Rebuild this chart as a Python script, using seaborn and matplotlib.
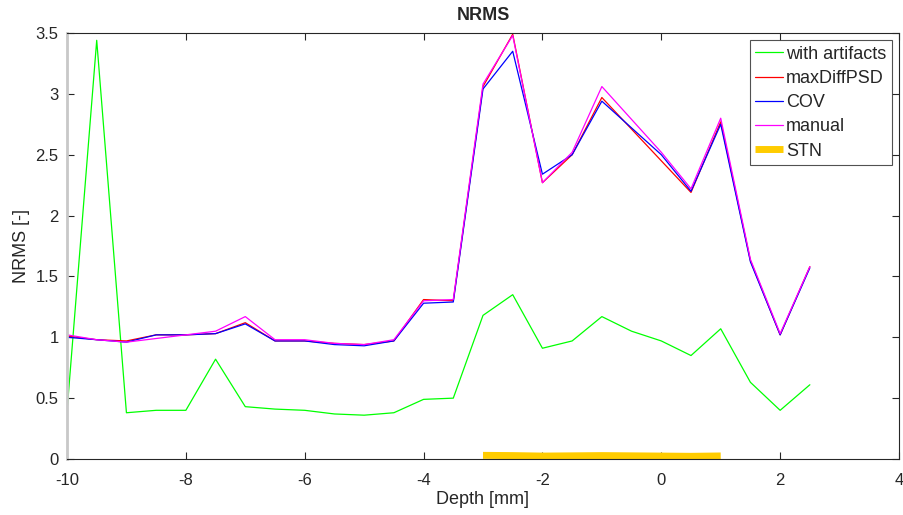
import numpy as np
import pandas as pd
import seaborn as sns
import matplotlib
matplotlib.use("Agg")
import matplotlib.pyplot as plt
from matplotlib.ticker import FuncFormatter

depth = [-10, -9.5, -9, -8.5, -8, -7.5, -7, -6.5, -6, -5.5, -5, -4.5, -4,
         -3.5, -3, -2.5, -2, -1.5, -1, -0.5, 0, 0.5, 1, 1.5, 2, 2.5]
with_artifacts = [0.39, 3.44, 0.38, 0.40, 0.40, 0.82, 0.43, 0.41, 0.40, 0.37,
                  0.36, 0.38, 0.49, 0.50, 1.18, 1.35, 0.91, 0.97, 1.17, 1.05,
                  0.97, 0.85, 1.07, 0.63, 0.40, 0.61]
max_diff_psd = [1.01, 0.98, 0.97, 1.02, 1.02, 1.03, 1.12, 0.97, 0.97, 0.95,
                0.94, 0.97, 1.31, 1.30, 3.06, 3.49, 2.27, 2.50, 2.97, 2.71,
                2.45, 2.19, 2.77, 1.63, 1.02, 1.58]
cov = [1.00, 0.98, 0.96, 1.02, 1.02, 1.03, 1.11, 0.97, 0.97, 0.94,
       0.93, 0.97, 1.28, 1.29, 3.04, 3.35, 2.34, 2.50, 2.94, 2.72,
       2.50, 2.20, 2.75, 1.62, 1.02, 1.57]
manual = [1.02, 0.98, 0.96, 0.99, 1.02, 1.05, 1.17, 0.98, 0.98, 0.95,
          0.94, 0.98, 1.30, 1.31, 3.08, 3.48, 2.27, 2.52, 3.06, 2.79,
          2.52, 2.22, 2.80, 1.64, 1.03, 1.58]

stn_depth = [-3, -2.5, -2, -1.5, -1, -0.5, 0, 0.5, 1]
stn_level = [0.03, 0.028, 0.024, 0.026, 0.028, 0.026, 0.024, 0.022, 0.025]

series = {
    "with artifacts": (with_artifacts, "#00ff00"),
    "maxDiffPSD": (max_diff_psd, "#ff0000"),
    "COV": (cov, "#0000ff"),
    "manual": (manual, "#ff00ff"),
}

sns.set_style("white")
plt.rcParams["font.family"] = ["Liberation Sans", "DejaVu Sans"]
plt.rcParams["axes.unicode_minus"] = False

fig = plt.figure(figsize=(9.04, 5.15), dpi=100)
ax = fig.add_axes([67 / 904, 1 - 459 / 515, 832 / 904, 426 / 515])

for name, (vals, col) in series.items():
    df = pd.DataFrame({"depth": depth, "nrms": vals})
    sns.lineplot(data=df, x="depth", y="nrms", color=col, linewidth=0.9,
                 label=name, ax=ax)

stn = pd.DataFrame({"depth": stn_depth, "nrms": stn_level})
sns.lineplot(data=stn, x="depth", y="nrms", color="#ffcc00", linewidth=5,
             label="STN", ax=ax, solid_capstyle="butt")

ax.set_xlim(-10, 4)
ax.set_ylim(0, 3.5)
ax.set_xticks(np.arange(-10, 5, 2))
ax.set_yticks(np.arange(0, 3.51, 0.5))
ax.yaxis.set_major_formatter(FuncFormatter(lambda v, p: "%g" % v))
ax.tick_params(direction="in", length=5, width=0.8, colors="#262626",
               labelsize=12, top=True, right=True, bottom=True, left=True,
               labelcolor="#262626")
ax.tick_params(axis="x", pad=10)
ax.tick_params(axis="y", pad=6)
for side in ["top", "right", "bottom"]:
    ax.spines[side].set_color("#262626")
    ax.spines[side].set_linewidth(0.8)
ax.spines["left"].set_color("#c8c8c8")
ax.spines["left"].set_linewidth(2)

ax.set_xlabel("Depth [mm]", fontsize=13, color="#262626", labelpad=2)
ax.set_ylabel("NRMS [-]", fontsize=13, color="#262626")
ax.set_title("NRMS", fontsize=13, fontweight="bold", pad=9)

leg = ax.legend(loc="upper right", fontsize=13, frameon=True, fancybox=False,
                handlelength=1.55, handletextpad=0.15, borderpad=0.3,
                labelspacing=0.4, borderaxespad=0.4)
leg.get_frame().set_edgecolor("#262626")
leg.get_frame().set_linewidth(0.8)

fig.savefig("out.png", dpi=100)
